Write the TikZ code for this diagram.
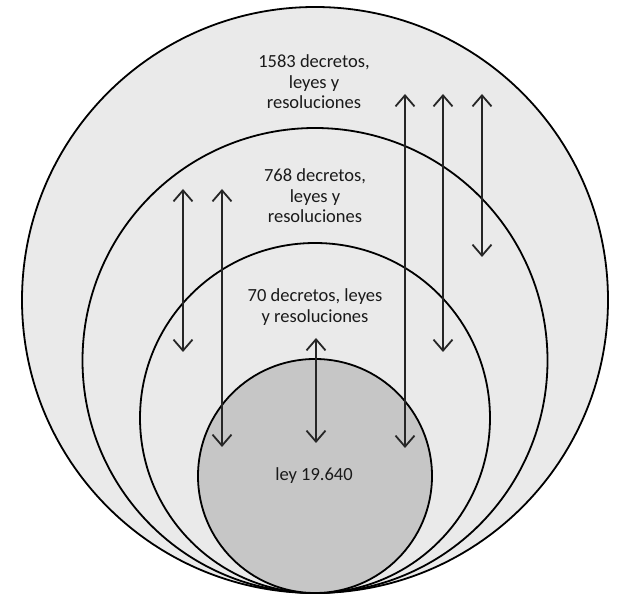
\documentclass[tikz,border=0pt]{standalone}
\usepackage{fontspec}
\setmainfont{Carlito}
\usetikzlibrary{arrows.meta}
\definecolor{lightfill}{HTML}{EAEAEA}
\definecolor{darkfill}{HTML}{C6C6C6}
\definecolor{arrowcol}{HTML}{262626}
\definecolor{textcol}{HTML}{1A1A1A}
\begin{document}
\begin{tikzpicture}[x=1pt,y=-1pt,
  ring/.style={circle, draw=black, line width=1.8pt, fill=lightfill, inner sep=0pt, outer sep=0pt},
  dblarrow/.style={draw=arrowcol, line width=1.8pt, {Straight Barb[length=11pt,width=19pt,line width=1.8pt]}-{Straight Barb[length=11pt,width=19pt,line width=1.8pt]}},
  lbl/.style={align=center, font=\fontsize{18.5}{20.5}\selectfont, text=textcol, inner sep=0pt}]
\useasboundingbox (0,0) rectangle (635,609);
\fill[white] (0,0) rectangle (635,609);
% circles
\node[ring, minimum size=586pt] (c1) at (315,300) {};
\node[ring, minimum size=465pt] (c2) at (315,360.5) {};
\node[ring, minimum size=350pt] (c3) at (315,418) {};
\node[ring, minimum size=234pt, fill=darkfill] (c4) at (315,476) {};
% arrow end points
\coordinate (a1t) at (183,189); \coordinate (a1b) at (183,352);
\coordinate (a2t) at (222,189); \coordinate (a2b) at (222,447);
\coordinate (a3t) at (316,338); \coordinate (a3b) at (316,443);
\coordinate (a4t) at (405,94);  \coordinate (a4b) at (405,448);
\coordinate (a5t) at (443,94);  \coordinate (a5b) at (443,352);
\coordinate (a6t) at (482,94);  \coordinate (a6b) at (482,257);
\draw[dblarrow] (a1t) -- (a1b);
\draw[dblarrow] (a2t) -- (a2b);
\draw[dblarrow] (a3t) -- (a3b);
\draw[dblarrow] (a4t) -- (a4b);
\draw[dblarrow] (a5t) -- (a5b);
\draw[dblarrow] (a6t) -- (a6b);
% labels
\node[lbl] (t1) at (314,82) {1583 decretos,\\leyes y\\resoluciones};
\node[lbl] (t2) at (315,196) {768 decretos,\\leyes y\\resoluciones};
\node[lbl] (t3) at (315,307) {70 decretos, leyes\\y resoluciones};
\node[lbl] (t4) at (314,476) {ley 19.640};
\end{tikzpicture}
\end{document}
